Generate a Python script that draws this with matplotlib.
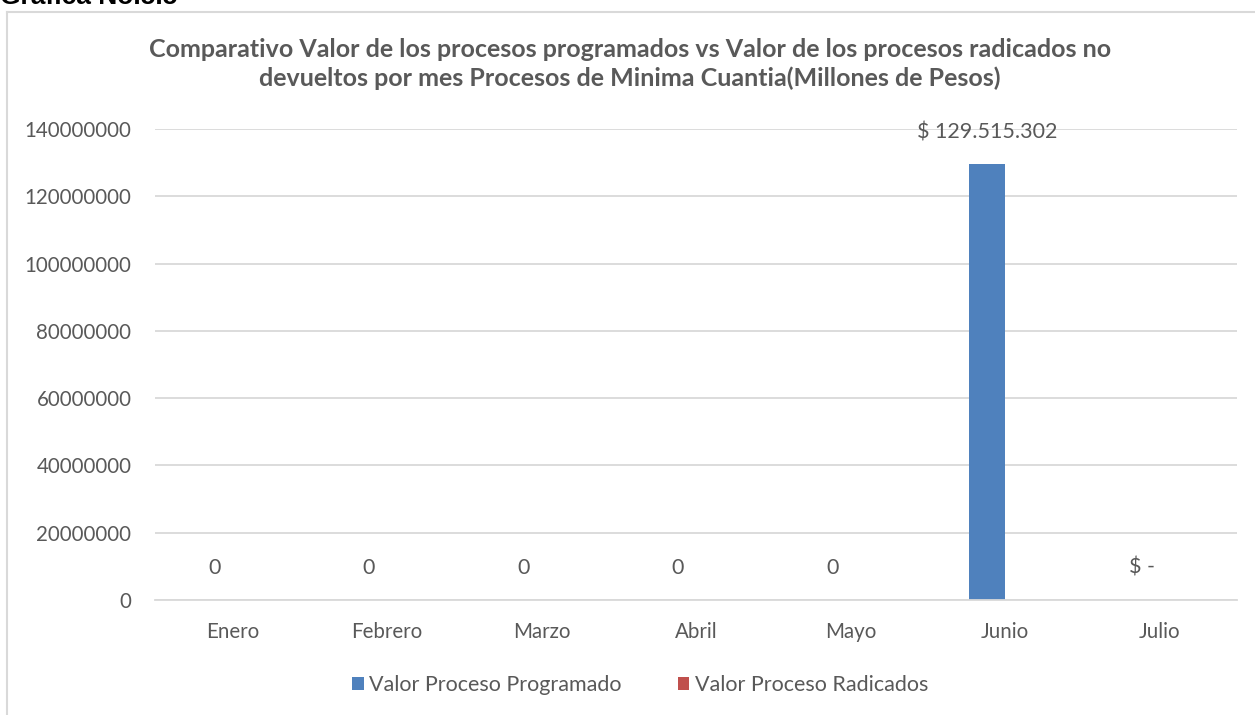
import matplotlib.pyplot as plt
import numpy as np
from matplotlib.lines import Line2D

plt.rcParams['font.family'] = ['Lato', 'DejaVu Sans']

meses = ['Enero', 'Febrero', 'Marzo', 'Abril', 'Mayo', 'Junio', 'Julio']
programado = [0, 0, 0, 0, 0, 129515302, 0]
radicados = [0, 0, 0, 0, 0, 0, 0]
etiquetas = ['0', '0', '0', '0', '0', '$ 129.515.302', '$ -']

gris = '#595959'
fig = plt.figure(figsize=(12.55, 7.15), dpi=100)
ax = fig.add_axes([155/1255, 115/715, 1082/1255, 471/715])

x = np.arange(len(meses))
w = 0.233
ax.bar(x - w/2, programado, w, color='#4F81BD', label='Valor Proceso Programado')
ax.bar(x + w/2, radicados, w, color='#C0504D', label='Valor Proceso Radicados')

# etiquetas de datos
for i, (v, t) in enumerate(zip(programado, etiquetas)):
    ax.annotate(t, (x[i] - w/2, v), xytext=(0, 16), textcoords='offset points',
                ha='center', va='bottom', fontsize=15.5, color=gris)

ax.set_xlim(-0.5, len(meses) - 0.5)
ax.set_ylim(0, 140000000)
ax.set_yticks(np.arange(0, 140000001, 20000000))
ax.yaxis.set_major_formatter(plt.FuncFormatter(lambda v, p: '%d' % v))
ax.set_xticks(x)
ax.set_xticklabels(meses)
ax.tick_params(axis='both', length=0, labelsize=14.8, labelcolor=gris)
ax.tick_params(axis='y', pad=17)
ax.tick_params(axis='x', pad=16)
ax.grid(axis='y', color='#D9D9D9', linewidth=1.3)
ax.set_axisbelow(True)
for s in ['top', 'right', 'left']:
    ax.spines[s].set_visible(False)
ax.spines['bottom'].set_color('#D9D9D9')
ax.spines['bottom'].set_linewidth(1.3)

fig.text(0.502, 1 - 64/715, 'Comparativo Valor de los procesos programados vs Valor de los procesos radicados no\n'
         'devueltos por mes Procesos de Minima Cuantia(Millones de Pesos)',
         ha='center', va='center', fontsize=18, fontweight='bold', color=gris, linespacing=1.3)

fig.legend(loc='center', bbox_to_anchor=(0.51, 1 - 685/715), ncol=2, frameon=False,
           fontsize=15.5, labelcolor=gris, handlelength=0.55, handleheight=0.55,
           handletextpad=0.25, columnspacing=2.6)

# marco del area del grafico
fig.add_artist(Line2D([7/1255, 7/1255], [0, 1 - 12/715], color='#D9D9D9', linewidth=1.5))
fig.add_artist(Line2D([7/1255, 1], [1 - 12/715, 1 - 12/715], color='#D9D9D9', linewidth=1.5))

fig.text(0.0, 1 - 4/715, 'Grafica No.5.5', ha='left', va='baseline', fontsize=19,
         fontweight='bold', family='Liberation Sans', color='black')

fig.savefig('out.png', dpi=100)
